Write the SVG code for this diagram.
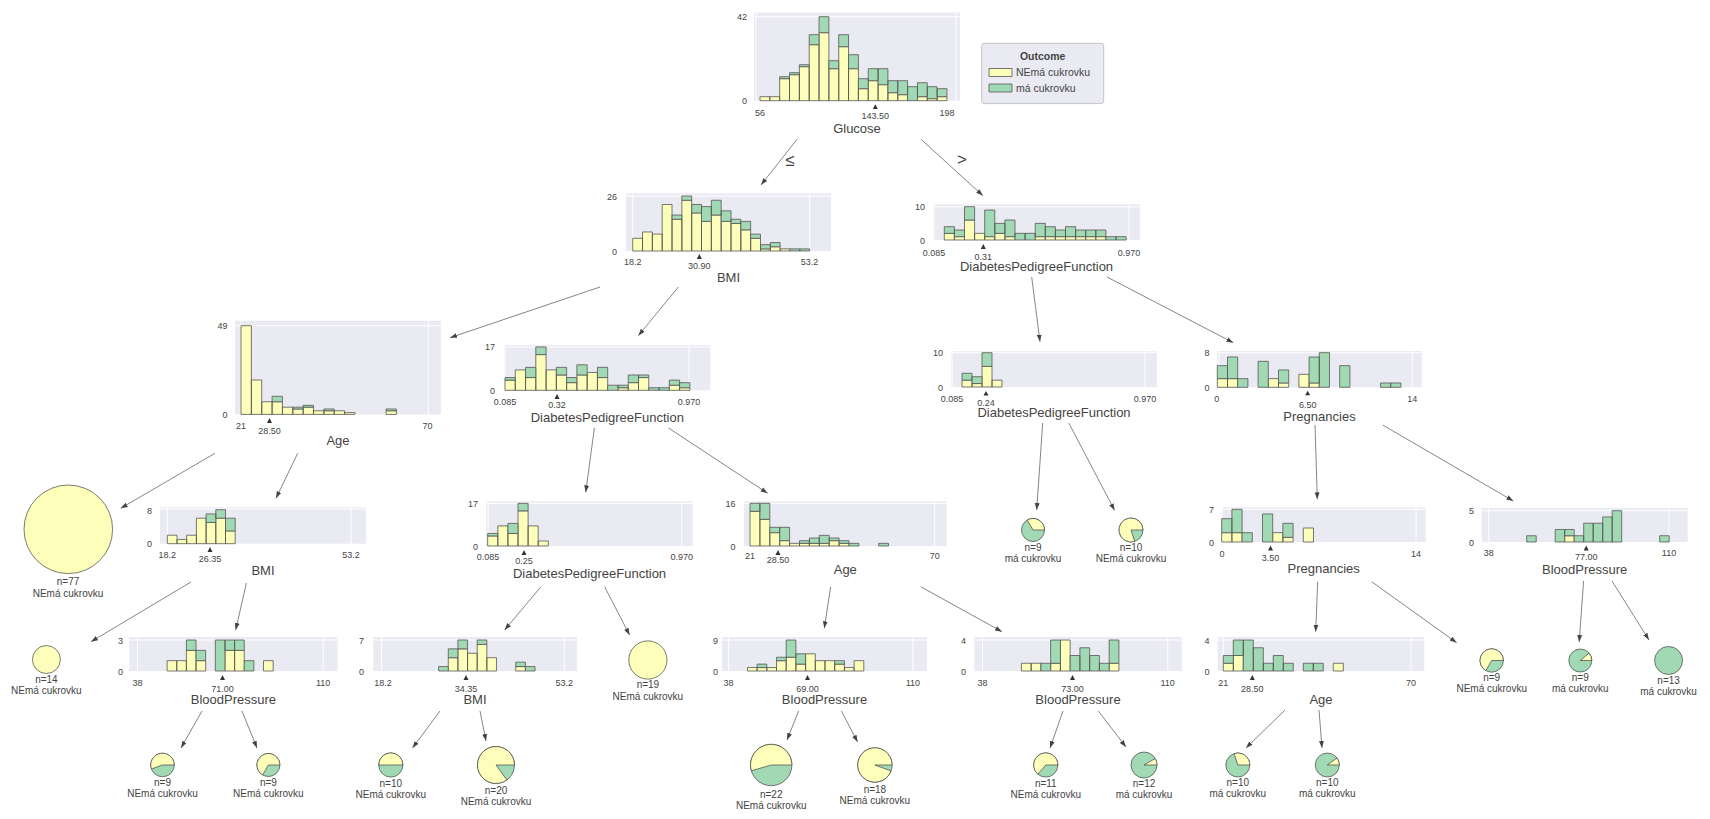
<svg xmlns="http://www.w3.org/2000/svg" width="1710" height="819" viewBox="0 0 1710 819">
<style>
.bg{fill:#fff}
.panel{fill:#EAEAF2}
.grid{stroke:#fff;stroke-width:1;fill:none}
.y{fill:#FEFEBB;stroke:#555;stroke-width:0.8;vector-effect:non-scaling-stroke}
.g{fill:#A1D9B4;stroke:#555;stroke-width:0.8;vector-effect:non-scaling-stroke}
.tri{fill:#333}
.t{font-family:"Liberation Sans",Arial,sans-serif;fill:#444443}
.tk{font-size:9px}
.tr{text-anchor:end}
.tm{text-anchor:middle}
.fl{font-size:13px;text-anchor:middle}
.lf{font-size:10px;text-anchor:middle}
.edge path{stroke:#666;stroke-width:0.8;fill:none;marker-end:url(#ah)}
.py{fill:#FEFEBB;stroke:#444443;stroke-width:0.7}
.pg{fill:#A1D9B4;stroke:#444443;stroke-width:0.7}
</style>
<defs>
<marker id="ah" viewBox="0 0 10 10" refX="10" refY="5" markerWidth="7" markerHeight="7" markerUnits="userSpaceOnUse" orient="auto"><path d="M0,1.5L10,5L0,8.5Z" fill="#444"/></marker>
</defs>
<rect class="bg" x="0" y="0" width="1710" height="819"/>

<g id="legend">
<rect x="981.7" y="43.3" width="122" height="60.3" rx="2.5" fill="#EAEAF2" stroke="#c4c4c8" stroke-width="1"/>
<text class="t" x="1042.7" y="59.5" font-size="10.5" font-weight="bold" text-anchor="middle">Outcome</text>
<rect class="y" x="989" y="68.5" width="23" height="8"/>
<text class="t" x="1016" y="76" font-size="10.5">NEmá cukrovku</text>
<rect class="g" x="989" y="84" width="23" height="8"/>
<text class="t" x="1016" y="91.5" font-size="10.5">má cukrovku</text>
</g>

<g id="edges" class="edge">
<path d="M797,139.3L761,185"/>
<path d="M921,139.3L983,195.7"/>
<path d="M600,287L450,337.7"/>
<path d="M678.4,287L638.3,335.7"/>
<path d="M1031.7,277L1040,341.7"/>
<path d="M1107,277L1233.3,342.7"/>
<path d="M215,453.3L120.7,508.3"/>
<path d="M297.7,453.3L276,498.3"/>
<path d="M594.4,428L585.7,492.3"/>
<path d="M668.5,428L767.7,493.3"/>
<path d="M1042.7,423L1036.7,510"/>
<path d="M1068.8,423L1114.6,510.4"/>
<path d="M1315,425L1317.3,499.3"/>
<path d="M1382.7,425L1513.3,501"/>
<path d="M191,582L91,641.7"/>
<path d="M246.4,583L235.7,630"/>
<path d="M541,586.7L504.6,630"/>
<path d="M604.6,586.7L629.6,635"/>
<path d="M830.7,586.7L824.3,628.3"/>
<path d="M920.7,586.7L1002,631.7"/>
<path d="M1317.7,581.7L1315.7,631.7"/>
<path d="M1371.7,581.7L1456.7,642.7"/>
<path d="M1583.6,581L1579.2,642"/>
<path d="M1612,581L1649,640"/>
<path d="M202,711L181,748"/>
<path d="M242,711L257,748"/>
<path d="M440,711L412.5,748"/>
<path d="M480,711L486,741"/>
<path d="M798.6,711L787,740"/>
<path d="M841.4,711L857.6,742"/>
<path d="M1063,711L1050,748"/>
<path d="M1098.3,711L1126,747"/>
<path d="M1285,710L1246,748"/>
<path d="M1319,710L1322,748"/>
<text class="t" x="790" y="166" font-size="17" text-anchor="middle">≤</text>
<text class="t" x="962" y="165" font-size="17" text-anchor="middle">&gt;</text>
</g>

<g id="node-glucose">
<rect class="panel" x="754" y="12.5" width="206" height="88.2"/>
<path class="grid" d="M754,16.7H960M756,12.5V100.7M956,12.5V100.7"/>
<g transform="translate(760,100.7) scale(9.84,-2)">
<path class="y" d="M0,0h1v2h-1zM1,0h1v2h-1zM2,0h1v11h-1zM3,0h1v13h-1zM4,0h1v17h-1zM5,0h1v28h-1zM6,0h1v34h-1zM7,0h1v16h-1zM8,0h1v27h-1zM9,0h1v16h-1zM10,0h1v6h-1zM11,0h1v10h-1zM12,0h1v8h-1zM13,0h1v4h-1zM14,0h1v3h-1zM16,0h1v2h-1zM17,0h1v1h-1zM18,0h1v2h-1z"/>
<path class="g" d="M2,11h1v1h-1zM3,13h1v1h-1zM4,17h1v1h-1zM5,28h1v5h-1zM6,34h1v8h-1zM7,16h1v4h-1zM8,27h1v6h-1zM9,16h1v7h-1zM10,6h1v5h-1zM11,10h1v6h-1zM12,8h1v8h-1zM13,4h1v6h-1zM14,3h1v7h-1zM15,0h1v7h-1zM16,2h1v7h-1zM17,1h1v6h-1zM18,2h1v4h-1z"/>
</g>
<text class="t tk tr" x="747" y="20">42</text>
<text class="t tk tr" x="747" y="104">0</text>
<text class="t tk tm" x="760" y="115.5">56</text>
<text class="t tk tm" x="947" y="115.5">198</text>
<text class="t tk tm" x="875.3" y="119">143.50</text>
<path class="tri" d="M872.8,109L875.3,104.2L877.8,109Z"/>
<text class="t fl" x="857" y="133">Glucose</text>
</g>

<g id="node-bmi">
<rect class="panel" x="626" y="193.3" width="205" height="57.7"/>
<path class="grid" d="M626,196H831M632.7,193.3V251M809.6,193.3V251"/>
<g transform="translate(632.7,251) scale(9.83,-2.115)">
<path class="y" d="M0,0h1v6h-1zM1,0h1v9h-1zM2,0h1v8h-1zM3,0h1v22h-1zM4,0h1v15h-1zM5,0h1v24h-1zM6,0h1v18h-1zM7,0h1v14h-1zM8,0h1v17h-1zM9,0h1v14h-1zM10,0h1v13h-1zM11,0h1v10h-1zM12,0h1v6h-1zM13,0h1v1h-1zM14,0h1v2h-1zM15,0h1v1h-1z"/>
<path class="g" d="M4,15h1v2h-1zM5,24h1v2h-1zM6,18h1v4h-1zM7,14h1v7h-1zM8,17h1v7h-1zM9,14h1v5h-1zM10,13h1v2h-1zM11,10h1v4h-1zM12,6h1v2h-1zM13,1h1v2h-1zM14,2h1v2h-1zM16,0h1v1h-1zM17,0h1v1h-1z"/>
</g>
<text class="t tk tr" x="617" y="199.5">26</text>
<text class="t tk tr" x="617" y="254.5">0</text>
<text class="t tk tm" x="632.7" y="265">18.2</text>
<text class="t tk tm" x="809.6" y="265">53.2</text>
<text class="t tk tm" x="699.3" y="268.5">30.90</text>
<path class="tri" d="M696.8,259L699.3,254L701.8,259Z"/>
<text class="t fl" x="728.5" y="282">BMI</text>
</g>

<g id="node-dpf-r">
<rect class="panel" x="933.3" y="204.3" width="206.7" height="35.7"/>
<path class="grid" d="M933.3,206.7H1140M934,204.3V240M1129,204.3V240"/>
<g transform="translate(944.3,240) scale(10.1,-3.33)">
<path class="y" d="M0,0h1v2h-1zM1,0h1v1h-1zM2,0h1v6h-1zM3,0h1v2h-1zM4,0h1v1h-1zM5,0h1v2h-1zM6,0h1v1h-1zM9,0h1v1h-1zM10,0h1v1h-1zM11,0h1v1h-1zM12,0h1v1h-1zM13,0h1v1h-1zM14,0h1v1h-1zM15,0h1v1h-1z"/>
<path class="g" d="M0,2h1v2h-1zM1,1h1v2h-1zM2,6h1v4h-1zM4,1h1v8h-1zM5,2h1v3h-1zM6,1h1v5h-1zM7,0h1v2h-1zM8,0h1v2h-1zM9,1h1v4h-1zM10,1h1v3h-1zM11,1h1v2h-1zM12,1h1v3h-1zM13,1h1v2h-1zM14,1h1v2h-1zM15,1h1v2h-1zM16,0h1v1h-1zM17,0h1v1h-1z"/>
</g>
<text class="t tk tr" x="925" y="210">10</text>
<text class="t tk tr" x="925" y="243.5">0</text>
<text class="t tk tm" x="934" y="255.5">0.085</text>
<text class="t tk tm" x="1129" y="255.5">0.970</text>
<text class="t tk tm" x="983.3" y="259.5">0.31</text>
<path class="tri" d="M980.8,249L983.3,244L985.8,249Z"/>
<text class="t fl" x="1036.5" y="270.5">DiabetesPedigreeFunction</text>
</g>

<g id="node-age">
<rect class="panel" x="235" y="320.7" width="206" height="93.7"/>
<path class="grid" d="M235,325.7H441M241,320.7V414.4M428.3,320.7V414.4"/>
<g transform="translate(241,414.4) scale(10.36,-1.81)">
<path class="y" d="M0,0h1v49h-1zM1,0h1v19h-1zM2,0h1v7h-1zM3,0h1v7h-1zM4,0h1v4h-1zM5,0h1v3h-1zM6,0h1v4h-1zM7,0h1v2h-1zM8,0h1v2h-1zM9,0h1v2h-1zM10,0h1v1h-1zM14,0h1v2h-1z"/>
<path class="g" d="M3,7h1v3h-1zM5,3h1v1h-1zM6,4h1v1h-1zM8,2h1v1h-1zM14,2h1v1h-1z"/>
</g>
<text class="t tk tr" x="227.5" y="329">49</text>
<text class="t tk tr" x="227.5" y="418">0</text>
<text class="t tk tm" x="241" y="429">21</text>
<text class="t tk tm" x="427.5" y="429">70</text>
<text class="t tk tm" x="269.5" y="433.5">28.50</text>
<path class="tri" d="M267,423L269.5,418L272,423Z"/>
<text class="t fl" x="338" y="445">Age</text>
</g>

<g id="node-dpf-m">
<rect class="panel" x="504.3" y="345" width="206" height="45.3"/>
<path class="grid" d="M504.3,347H710.3M505,345V390.3M689,345V390.3"/>
<g transform="translate(505,390.3) scale(10.27,-2.55)">
<path class="y" d="M0,0h1v4h-1zM1,0h1v8h-1zM2,0h1v5h-1zM3,0h1v14h-1zM4,0h1v8h-1zM5,0h1v6h-1zM6,0h1v3h-1zM7,0h1v6h-1zM8,0h1v7h-1zM9,0h1v5h-1zM11,0h1v1h-1zM12,0h1v3h-1zM13,0h1v5h-1zM16,0h1v2h-1zM17,0h1v1h-1z"/>
<path class="g" d="M0,4h1v1h-1zM2,5h1v4h-1zM3,14h1v3h-1zM5,6h1v3h-1zM6,3h1v2h-1zM7,6h1v4h-1zM9,5h1v4h-1zM10,0h1v2h-1zM11,1h1v1h-1zM12,3h1v3h-1zM13,5h1v1h-1zM14,0h1v1h-1zM15,0h1v1h-1zM16,2h1v2h-1zM17,1h1v2h-1z"/>
</g>
<text class="t tk tr" x="495" y="350">17</text>
<text class="t tk tr" x="495" y="394">0</text>
<text class="t tk tm" x="505" y="404.5">0.085</text>
<text class="t tk tm" x="689" y="404.5">0.970</text>
<text class="t tk tm" x="557" y="408">0.32</text>
<path class="tri" d="M554.5,399L557,394L559.5,399Z"/>
<text class="t fl" x="607.3" y="422">DiabetesPedigreeFunction</text>
</g>

<g id="node-dpf-r2">
<rect class="panel" x="951" y="351.3" width="206" height="35.7"/>
<path class="grid" d="M951,352.7H1157M952,351.3V387M1145,351.3V387"/>
<g transform="translate(962,387) scale(10,-3.43)">
<path class="y" d="M0,0h1v2h-1zM1,0h1v1h-1zM2,0h1v6h-1zM3,0h1v2h-1z"/>
<path class="g" d="M0,2h1v2h-1zM1,1h1v2h-1zM2,6h1v4h-1z"/>
</g>
<text class="t tk tr" x="943" y="356">10</text>
<text class="t tk tr" x="943" y="390.5">0</text>
<text class="t tk tm" x="952" y="401.5">0.085</text>
<text class="t tk tm" x="1145" y="401.5">0.970</text>
<text class="t tk tm" x="986" y="405.5">0.24</text>
<path class="tri" d="M983.5,395.5L986,391L988.5,395.5Z"/>
<text class="t fl" x="1054" y="417">DiabetesPedigreeFunction</text>
</g>

<g id="node-preg">
<rect class="panel" x="1217.3" y="351" width="204.4" height="36.3"/>
<path class="grid" d="M1217.3,352.7H1421.7M1219,351V387.3M1412.3,351V387.3"/>
<g transform="translate(1217.3,387.3) scale(10.2,-4.33)">
<path class="y" d="M0,0h1v2h-1zM1,0h1v2h-1zM5,0h1v2h-1zM6,0h1v1h-1zM8,0h1v3h-1zM9,0h1v1h-1z"/>
<path class="g" d="M0,2h1v3h-1zM1,2h1v5h-1zM2,0h1v2h-1zM4,0h1v6h-1zM6,1h1v3h-1zM9,1h1v6h-1zM10,0h1v8h-1zM12,0h1v5h-1zM16,0h1v1h-1zM17,0h1v1h-1z"/>
</g>
<text class="t tk tr" x="1209.5" y="356">8</text>
<text class="t tk tr" x="1209.5" y="391">0</text>
<text class="t tk tm" x="1216.7" y="402">0</text>
<text class="t tk tm" x="1412.3" y="402">14</text>
<text class="t tk tm" x="1307.7" y="408">6.50</text>
<path class="tri" d="M1305.2,395.3L1307.7,390.7L1310.2,395.3Z"/>
<text class="t fl" x="1319.5" y="421">Pregnancies</text>
</g>

<g id="leaf-77">
<circle class="py" cx="68.3" cy="529.3" r="44.3"/>
<text class="t lf" x="68" y="585">n=77</text>
<text class="t lf" x="68" y="597">NEmá cukrovku</text>
</g>

<g id="node-bmi-l3">
<rect class="panel" x="160" y="507.3" width="206" height="36.4"/>
<path class="grid" d="M160,509H366M167.3,507.3V543.7M351,507.3V543.7"/>
<g transform="translate(167.3,543.7) scale(9.7,-4.25)">
<path class="y" d="M0,0h1v2h-1zM1,0h1v1h-1zM2,0h1v2h-1zM3,0h1v6h-1zM4,0h1v5h-1zM5,0h1v6h-1zM6,0h1v3h-1z"/>
<path class="g" d="M4,5h1v2h-1zM5,6h1v2h-1zM6,3h1v3h-1z"/>
</g>
<text class="t tk tr" x="152" y="513.5">8</text>
<text class="t tk tr" x="152" y="547">0</text>
<text class="t tk tm" x="167.3" y="558">18.2</text>
<text class="t tk tm" x="351" y="558">53.2</text>
<text class="t tk tm" x="210" y="562">26.35</text>
<path class="tri" d="M207.5,552L210,547L212.5,552Z"/>
<text class="t fl" x="263" y="575">BMI</text>
</g>

<g id="node-dpf-l3">
<rect class="panel" x="486" y="501.3" width="206.7" height="44.7"/>
<path class="grid" d="M486,503.3H692.7M488,501.3V546M681.7,501.3V546"/>
<g transform="translate(487.7,546) scale(10.1,-2.51)">
<path class="y" d="M0,0h1v4h-1zM1,0h1v8h-1zM2,0h1v5h-1zM3,0h1v14h-1zM4,0h1v8h-1zM5,0h1v2h-1z"/>
<path class="g" d="M0,4h1v1h-1zM2,5h1v4h-1zM3,14h1v3h-1z"/>
</g>
<text class="t tk tr" x="478" y="506.5">17</text>
<text class="t tk tr" x="478" y="549.5">0</text>
<text class="t tk tm" x="488" y="560">0.085</text>
<text class="t tk tm" x="681.7" y="560">0.970</text>
<text class="t tk tm" x="524" y="564">0.25</text>
<path class="tri" d="M521.5,555L524,550L526.5,555Z"/>
<text class="t fl" x="589.5" y="578">DiabetesPedigreeFunction</text>
</g>

<g id="node-age-l3">
<rect class="panel" x="744" y="501.3" width="202.6" height="44.7"/>
<path class="grid" d="M744,503.3H946.6M750,501.3V546M934.7,501.3V546"/>
<g transform="translate(750,546) scale(9.9,-2.67)">
<path class="y" d="M0,0h1v13h-1zM1,0h1v10h-1zM2,0h1v5h-1zM3,0h1v2h-1zM4,0h1v1h-1zM5,0h1v1h-1zM6,0h1v1h-1zM7,0h1v1h-1zM8,0h1v2h-1zM9,0h1v1h-1z"/>
<path class="g" d="M0,13h1v3h-1zM1,10h1v6h-1zM2,5h1v2h-1zM3,2h1v5h-1zM5,1h1v1h-1zM6,1h1v2h-1zM7,1h1v3h-1zM8,2h1v1h-1zM9,1h1v1h-1zM10,0h1v1h-1zM13,0h1v1h-1z"/>
</g>
<text class="t tk tr" x="735.5" y="506.5">16</text>
<text class="t tk tr" x="735.5" y="549.5">0</text>
<text class="t tk tm" x="750" y="559">21</text>
<text class="t tk tm" x="934.7" y="559">70</text>
<text class="t tk tm" x="778" y="563">28.50</text>
<path class="tri" d="M775.5,555L778,550L780.5,555Z"/>
<text class="t fl" x="845.3" y="574">Age</text>
</g>

<g id="leaf-dpf-left">
<circle class="pg" cx="1033" cy="530" r="11.5"/>
<path class="py" d="M1033,530L1044.5,530A11.5,11.5 0 0 0 1027.25,520.04Z"/>
<text class="t lf" x="1033" y="550.5">n=9</text>
<text class="t lf" x="1033" y="561.5">má cukrovku</text>
</g>

<g id="leaf-dpf-right">
<circle class="pg" cx="1131" cy="530" r="12"/>
<path class="py" d="M1131,530L1143,530A12,12 0 1 0 1134.71,541.41Z"/>
<text class="t lf" x="1131" y="551">n=10</text>
<text class="t lf" x="1131" y="562">NEmá cukrovku</text>
</g>

<g id="node-preg-l3">
<rect class="panel" x="1221.7" y="507.3" width="204" height="34.7"/>
<path class="grid" d="M1221.7,509.3H1425.7M1222,507.3V542M1416,507.3V542"/>
<g transform="translate(1221.7,542) scale(10.2,-4.67)">
<path class="y" d="M0,0h1v2h-1zM1,0h1v2h-1zM5,0h1v2h-1zM6,0h1v1h-1zM8,0h1v3h-1z"/>
<path class="g" d="M0,2h1v3h-1zM1,2h1v5h-1zM2,0h1v2h-1zM4,0h1v6h-1zM6,1h1v3h-1z"/>
</g>
<text class="t tk tr" x="1214" y="512.5">7</text>
<text class="t tk tr" x="1214" y="545.5">0</text>
<text class="t tk tm" x="1222" y="557">0</text>
<text class="t tk tm" x="1416" y="557">14</text>
<text class="t tk tm" x="1270.5" y="560.5">3.50</text>
<path class="tri" d="M1268,550.5L1270.5,545.5L1273,550.5Z"/>
<text class="t fl" x="1323.7" y="573">Pregnancies</text>
</g>

<g id="node-bp-l3r">
<rect class="panel" x="1481.7" y="508" width="206" height="34"/>
<path class="grid" d="M1481.7,510.7H1687.7M1488.7,508V542M1669,508V542"/>
<g transform="translate(1488.7,542) scale(9.5,-6.26)">
<path class="y" d="M8,0h1v1h-1z"/>
<path class="g" d="M4,0h1v1h-1zM7,0h1v2h-1zM8,1h1v1h-1zM9,0h1v1h-1zM10,0h1v3h-1zM11,0h1v3h-1zM12,0h1v4h-1zM13,0h1v5h-1zM18,0h1v1h-1z"/>
</g>
<text class="t tk tr" x="1474" y="514">5</text>
<text class="t tk tr" x="1474" y="545.5">0</text>
<text class="t tk tm" x="1488.7" y="556">38</text>
<text class="t tk tm" x="1669" y="556">110</text>
<text class="t tk tm" x="1586.2" y="560">77.00</text>
<path class="tri" d="M1583.7,550.5L1586.2,545.5L1588.7,550.5Z"/>
<text class="t fl" x="1584.7" y="574">BloodPressure</text>
</g>

<g id="leaf-14">
<circle class="py" cx="46.4" cy="659.5" r="14"/>
<text class="t lf" x="46.4" y="682.5">n=14</text>
<text class="t lf" x="46.4" y="694">NEmá cukrovku</text>
</g>

<g id="node-bp-l4a">
<rect class="panel" x="129.3" y="637" width="208.2" height="34"/>
<path class="grid" d="M129.3,640H337.5M137.5,637V671M323.2,637V671"/>
<g transform="translate(138.2,671) scale(9.64,-10.33)">
<path class="y" d="M3,0h1v1h-1zM4,0h1v1h-1zM5,0h1v2h-1zM6,0h1v1h-1zM9,0h1v2h-1zM10,0h1v2h-1zM13,0h1v1h-1z"/>
<path class="g" d="M5,2h1v1h-1zM6,1h1v1h-1zM8,0h1v3h-1zM9,2h1v1h-1zM10,2h1v1h-1zM11,0h1v1h-1z"/>
</g>
<text class="t tk tr" x="123" y="643.5">3</text>
<text class="t tk tr" x="123" y="674.5">0</text>
<text class="t tk tm" x="137.5" y="685.5">38</text>
<text class="t tk tm" x="323.2" y="685.5">110</text>
<text class="t tk tm" x="222.5" y="692">71.00</text>
<path class="tri" d="M220,680L222.5,675L225,680Z"/>
<text class="t fl" x="233.4" y="704">BloodPressure</text>
</g>

<g id="node-bmi-l4">
<rect class="panel" x="373.2" y="637" width="203.8" height="34"/>
<path class="grid" d="M373.2,640H577M381.4,637V671M564.3,637V671"/>
<g transform="translate(380.8,671) scale(9.64,-4.43)">
<path class="y" d="M7,0h1v3h-1zM8,0h1v5h-1zM9,0h1v4h-1zM10,0h1v6h-1zM11,0h1v3h-1zM14,0h1v1h-1z"/>
<path class="g" d="M6,0h1v1h-1zM7,3h1v2h-1zM8,5h1v2h-1zM10,6h1v1h-1zM14,1h1v1h-1zM15,0h1v1h-1z"/>
</g>
<text class="t tk tr" x="364" y="643.5">7</text>
<text class="t tk tr" x="364" y="674.5">0</text>
<text class="t tk tm" x="383" y="685.5">18.2</text>
<text class="t tk tm" x="564.3" y="685.5">53.2</text>
<text class="t tk tm" x="466" y="692">34.35</text>
<path class="tri" d="M463.5,680L466,675L468.5,680Z"/>
<text class="t fl" x="475" y="704">BMI</text>
</g>

<g id="leaf-19">
<circle class="py" cx="647.9" cy="660" r="19.1"/>
<text class="t lf" x="647.9" y="688">n=19</text>
<text class="t lf" x="647.9" y="699.5">NEmá cukrovku</text>
</g>

<g id="node-bp-l4b">
<rect class="panel" x="722" y="637" width="205" height="34"/>
<path class="grid" d="M722,640H927M728.6,637V671M912.9,637V671"/>
<g transform="translate(728,671) scale(9.7,-3.44)">
<path class="y" d="M2,0h1v1h-1zM3,0h1v1h-1zM4,0h1v1h-1zM5,0h1v3h-1zM6,0h1v4h-1zM7,0h1v2h-1zM8,0h1v5h-1zM9,0h1v3h-1zM10,0h1v3h-1zM11,0h1v2h-1zM12,0h1v1h-1zM13,0h1v3h-1z"/>
<path class="g" d="M3,1h1v1h-1zM5,3h1v1h-1zM6,4h1v5h-1zM7,2h1v3h-1zM11,2h1v1h-1z"/>
</g>
<text class="t tk tr" x="718" y="643.5">9</text>
<text class="t tk tr" x="718" y="674.5">0</text>
<text class="t tk tm" x="728.6" y="685.5">38</text>
<text class="t tk tm" x="912.9" y="685.5">110</text>
<text class="t tk tm" x="807.5" y="692">69.00</text>
<path class="tri" d="M805,680L807.5,675L810,680Z"/>
<text class="t fl" x="824.5" y="704">BloodPressure</text>
</g>

<g id="node-bp-l4c">
<rect class="panel" x="974.3" y="637" width="207.4" height="34"/>
<path class="grid" d="M974.3,640H1181.7M982.5,637V671M1167.7,637V671"/>
<g transform="translate(982.4,671) scale(9.75,-7.75)">
<path class="y" d="M4,0h1v1h-1zM5,0h1v1h-1zM7,0h1v1h-1zM8,0h1v4h-1zM13,0h1v1h-1z"/>
<path class="g" d="M6,0h1v1h-1zM7,1h1v3h-1zM9,0h1v2h-1zM10,0h1v3h-1zM11,0h1v2h-1zM12,0h1v1h-1zM13,1h1v3h-1z"/>
</g>
<text class="t tk tr" x="966" y="643.5">4</text>
<text class="t tk tr" x="966" y="674.5">0</text>
<text class="t tk tm" x="982.5" y="685.5">38</text>
<text class="t tk tm" x="1167.7" y="685.5">110</text>
<text class="t tk tm" x="1072.5" y="692">73.00</text>
<path class="tri" d="M1070,680L1072.5,675L1075,680Z"/>
<text class="t fl" x="1078" y="704">BloodPressure</text>
</g>

<g id="node-age-l4">
<rect class="panel" x="1217.7" y="637" width="206.6" height="34"/>
<path class="grid" d="M1217.7,640H1424.3M1223.3,637V671M1411,637V671"/>
<g transform="translate(1223.3,671) scale(10,-7.75)">
<path class="y" d="M0,0h1v1h-1zM1,0h1v2h-1zM11,0h1v1h-1z"/>
<path class="g" d="M0,1h1v1h-1zM1,2h1v2h-1zM2,0h1v4h-1zM3,0h1v3h-1zM4,0h1v1h-1zM5,0h1v2h-1zM6,0h1v1h-1zM8,0h1v1h-1zM9,0h1v1h-1z"/>
</g>
<text class="t tk tr" x="1209.5" y="643.5">4</text>
<text class="t tk tr" x="1209.5" y="674.5">0</text>
<text class="t tk tm" x="1223.3" y="685.5">21</text>
<text class="t tk tm" x="1411" y="685.5">70</text>
<text class="t tk tm" x="1252.3" y="692">28.50</text>
<path class="tri" d="M1249.8,680L1252.3,675L1254.8,680Z"/>
<text class="t fl" x="1321" y="704">Age</text>
</g>

<g id="leaf-preg-right">
<circle class="pg" cx="1491.7" cy="660.5" r="11.7"/>
<path class="py" d="M1491.7,660.5L1503.4,660.5A11.7,11.7 0 1 0 1485.85,670.63Z"/>
<text class="t lf" x="1491.7" y="681">n=9</text>
<text class="t lf" x="1491.7" y="692">NEmá cukrovku</text>
</g>

<g id="leaf-bp-left">
<circle class="pg" cx="1580.3" cy="660.5" r="11.5"/>
<path class="py" d="M1580.3,660.5L1591.8,660.5A11.5,11.5 0 0 0 1589.11,653.11Z"/>
<text class="t lf" x="1580.3" y="681">n=9</text>
<text class="t lf" x="1580.3" y="692">má cukrovku</text>
</g>

<g id="leaf-bp-right">
<circle class="pg" cx="1668.6" cy="660.5" r="14"/>
<text class="t lf" x="1668.6" y="683.5">n=13</text>
<text class="t lf" x="1668.6" y="694.5">má cukrovku</text>
</g>

<g id="leaf-a">
<circle class="pg" cx="162.5" cy="765" r="11.8"/>
<path class="py" d="M162.5,765L174.3,765A11.8,11.8 0 1 0 151.41,769.04Z"/>
<text class="t lf" x="162.5" y="786">n=9</text>
<text class="t lf" x="162.5" y="797">NEmá cukrovku</text>
</g>
<g id="leaf-b">
<circle class="pg" cx="268.4" cy="765" r="11.5"/>
<path class="py" d="M268.4,765L279.9,765A11.5,11.5 0 1 0 262.65,774.96Z"/>
<text class="t lf" x="268.4" y="786">n=9</text>
<text class="t lf" x="268.4" y="797">NEmá cukrovku</text>
</g>
<g id="leaf-c">
<circle class="pg" cx="390.8" cy="765" r="12.1"/>
<path class="py" d="M390.8,765L402.9,765A12.1,12.1 0 1 0 378.7,765Z"/>
<text class="t lf" x="390.8" y="786.5">n=10</text>
<text class="t lf" x="390.8" y="797.5">NEmá cukrovku</text>
</g>
<g id="leaf-d">
<circle class="pg" cx="496" cy="765" r="18.5"/>
<path class="py" d="M496,765L514.5,765A18.5,18.5 0 1 0 506.87,779.97Z"/>
<text class="t lf" x="496" y="794">n=20</text>
<text class="t lf" x="496" y="805">NEmá cukrovku</text>
</g>
<g id="leaf-e">
<circle class="pg" cx="771.2" cy="765" r="20.7"/>
<path class="py" d="M771.2,765L791.9,765A20.7,20.7 0 1 0 751.34,770.84Z"/>
<text class="t lf" x="771.2" y="798">n=22</text>
<text class="t lf" x="771.2" y="809">NEmá cukrovku</text>
</g>
<g id="leaf-f">
<circle class="pg" cx="874.9" cy="765" r="17.2"/>
<path class="py" d="M874.9,765L892.1,765A17.2,17.2 0 1 0 891.06,770.88Z"/>
<text class="t lf" x="874.9" y="792.5">n=18</text>
<text class="t lf" x="874.9" y="803.5">NEmá cukrovku</text>
</g>
<g id="leaf-g">
<circle class="pg" cx="1045.8" cy="765" r="12.1"/>
<path class="py" d="M1045.8,765L1057.9,765A12.1,12.1 0 1 0 1037.88,774.14Z"/>
<text class="t lf" x="1045.8" y="786.5">n=11</text>
<text class="t lf" x="1045.8" y="797.5">NEmá cukrovku</text>
</g>
<g id="leaf-h">
<circle class="pg" cx="1144" cy="765" r="13"/>
<path class="py" d="M1144,765L1157,765A13,13 0 0 0 1155.26,758.5Z"/>
<text class="t lf" x="1144" y="787">n=12</text>
<text class="t lf" x="1144" y="798">má cukrovku</text>
</g>
<g id="leaf-i">
<circle class="pg" cx="1237.8" cy="765" r="12"/>
<path class="py" d="M1237.8,765L1249.8,765A12,12 0 0 0 1234.09,753.59Z"/>
<text class="t lf" x="1237.8" y="786">n=10</text>
<text class="t lf" x="1237.8" y="797">má cukrovku</text>
</g>
<g id="leaf-j">
<circle class="pg" cx="1327.3" cy="765" r="12"/>
<path class="py" d="M1327.3,765L1339.3,765A12,12 0 0 0 1337.01,757.95Z"/>
<text class="t lf" x="1327.3" y="786">n=10</text>
<text class="t lf" x="1327.3" y="797">má cukrovku</text>
</g>
</svg>
